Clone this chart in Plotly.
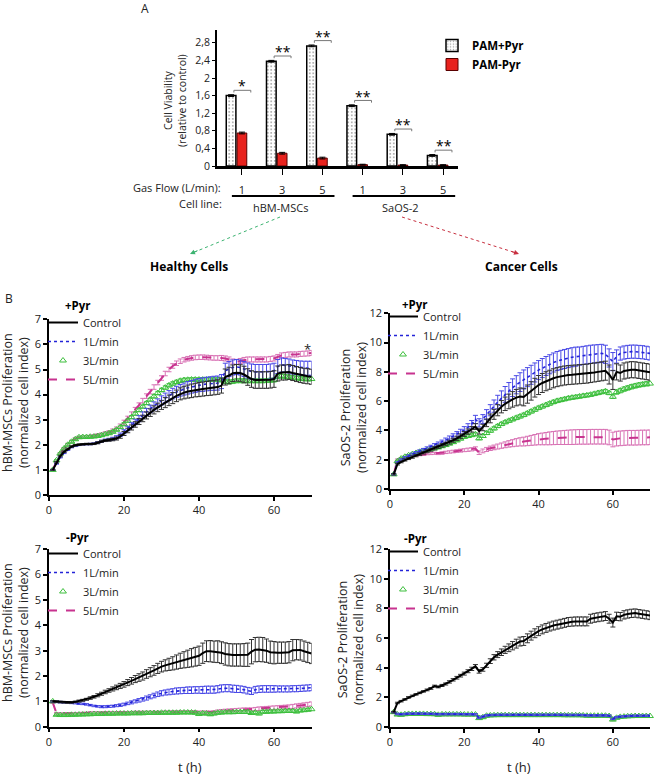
import plotly.graph_objects as go

W, H = 657, 775
FONT = "Open Sans"

# ---------------- Panel A data ----------------
groups = [0, 1, 2, 3, 4, 5]
gas_flow = ["1", "3", "5", "1", "3", "5"]
cell_lines = ["hBM-MSCs", "SaOS-2"]
via_plus = [1.60, 2.38, 2.73, 1.37, 0.72, 0.24]
via_minus = [0.75, 0.29, 0.18, 0.03, 0.02, 0.02]
via_plus_err = [0.02, 0.02, 0.02, 0.02, 0.02, 0.02]
via_minus_err = [0.02, 0.02, 0.02, 0.01, 0.01, 0.01]
via_sig = ["*", "**", "**", "**", "**", "**"]
bar_yticks = [0, 0.4, 0.8, 1.2, 1.6, 2.0, 2.4, 2.8]
bar_yticktext = ["0", "0,4", "0,8", "1,2", "1,6", "2", "2,4", "2,8"]

# ---------------- Panel B data (t = 1..70 h) ----------------
hours = list(range(1, 71))
series_names = ["Control", "1L/min", "3L/min", "5L/min"]

ul_ctrl = [1.00, 1.30, 1.55, 1.72, 1.84, 1.93, 1.98, 2.01, 2.02, 2.03,
           2.03, 2.04, 2.08, 2.14, 2.17, 2.19, 2.21, 2.25, 2.33, 2.45,
           2.57, 2.69, 2.81, 2.93, 3.05, 3.17, 3.28, 3.39, 3.49, 3.59,
           3.68, 3.77, 3.86, 3.95, 4.03, 4.08, 4.12, 4.15, 4.18, 4.20,
           4.22, 4.24, 4.26, 4.28, 4.30, 4.36, 4.70, 4.76, 4.85, 4.87,
           4.86, 4.80, 4.70, 4.62, 4.58, 4.58, 4.58, 4.58, 4.59, 4.62,
           4.84, 4.88, 4.88, 4.90, 4.86, 4.82, 4.78, 4.75, 4.73, 4.71]
ul_ctrl_err = [0.02, 0.03, 0.03, 0.03, 0.03, 0.03, 0.03, 0.03, 0.03, 0.03,
               0.03, 0.03, 0.04, 0.04, 0.04, 0.05, 0.05, 0.06, 0.07, 0.08,
               0.09, 0.10, 0.11, 0.12, 0.13, 0.14, 0.15, 0.16, 0.17, 0.18,
               0.20, 0.21, 0.22, 0.23, 0.24, 0.25, 0.26, 0.27, 0.27, 0.28,
               0.28, 0.28, 0.29, 0.29, 0.29, 0.30, 0.32, 0.33, 0.33, 0.33,
               0.33, 0.33, 0.33, 0.33, 0.33, 0.33, 0.33, 0.33, 0.33, 0.33,
               0.30, 0.30, 0.30, 0.30, 0.30, 0.30, 0.30, 0.30, 0.30, 0.30]
ul_1l = [1.00, 1.25, 1.50, 1.67, 1.80, 1.90, 1.95, 1.99, 2.01, 2.02,
         2.03, 2.05, 2.09, 2.14, 2.18, 2.21, 2.24, 2.30, 2.40, 2.52,
         2.65, 2.78, 2.91, 3.04, 3.18, 3.31, 3.43, 3.55, 3.66, 3.77,
         3.87, 3.96, 4.04, 4.11, 4.17, 4.22, 4.27, 4.31, 4.35, 4.38,
         4.40, 4.42, 4.44, 4.45, 4.46, 4.52, 4.95, 5.02, 5.08, 5.10,
         5.08, 5.02, 4.96, 4.92, 4.90, 4.90, 4.90, 4.90, 4.92, 4.95,
         5.12, 5.18, 5.16, 5.14, 5.10, 5.08, 5.06, 5.05, 5.05, 5.05]
ul_1l_err = [0.02, 0.02, 0.02, 0.02, 0.02, 0.02, 0.02, 0.02, 0.02, 0.02,
             0.03, 0.03, 0.04, 0.04, 0.05, 0.05, 0.06, 0.06, 0.07, 0.08,
             0.09, 0.10, 0.11, 0.12, 0.13, 0.14, 0.15, 0.16, 0.17, 0.18,
             0.19, 0.20, 0.21, 0.22, 0.23, 0.24, 0.25, 0.25, 0.26, 0.26,
             0.27, 0.27, 0.27, 0.28, 0.28, 0.28, 0.30, 0.30, 0.30, 0.30,
             0.30, 0.30, 0.30, 0.30, 0.30, 0.30, 0.30, 0.30, 0.30, 0.30,
             0.28, 0.28, 0.28, 0.28, 0.28, 0.28, 0.28, 0.28, 0.28, 0.28]
ul_3l = [1.00, 1.38, 1.65, 1.85, 2.00, 2.12, 2.22, 2.30, 2.31, 2.31,
         2.32, 2.33, 2.35, 2.38, 2.42, 2.46, 2.52, 2.60, 2.70, 2.82,
         2.96, 3.10, 3.24, 3.38, 3.52, 3.66, 3.80, 3.93, 4.06, 4.18,
         4.28, 4.37, 4.44, 4.50, 4.55, 4.58, 4.59, 4.60, 4.60, 4.60,
         4.60, 4.60, 4.60, 4.60, 4.60, 4.58, 4.52, 4.50, 4.52, 4.55,
         4.55, 4.55, 4.55, 4.55, 4.55, 4.55, 4.55, 4.56, 4.57, 4.58,
         4.72, 4.74, 4.72, 4.70, 4.68, 4.66, 4.64, 4.63, 4.62, 4.62]
ul_3l_err = [0.02, 0.03, 0.03, 0.03, 0.04, 0.04, 0.04, 0.04, 0.04, 0.04,
             0.04, 0.04, 0.04, 0.05, 0.05, 0.05, 0.05, 0.05, 0.05, 0.06,
             0.06, 0.06, 0.06, 0.06, 0.06, 0.06, 0.06, 0.07, 0.07, 0.07,
             0.07, 0.07, 0.07, 0.07, 0.07, 0.07, 0.07, 0.07, 0.07, 0.07,
             0.07, 0.07, 0.07, 0.07, 0.07, 0.08, 0.08, 0.08, 0.08, 0.08,
             0.08, 0.08, 0.08, 0.08, 0.08, 0.08, 0.08, 0.08, 0.08, 0.08,
             0.08, 0.08, 0.08, 0.08, 0.08, 0.08, 0.08, 0.08, 0.08, 0.08]
ul_5l = [1.00, 1.36, 1.66, 1.86, 2.02, 2.14, 2.24, 2.30, 2.31, 2.32,
         2.34, 2.36, 2.39, 2.42, 2.46, 2.50, 2.56, 2.64, 2.75, 2.90,
         3.06, 3.23, 3.40, 3.58, 3.76, 3.94, 4.12, 4.30, 4.48, 4.66,
         4.84, 5.00, 5.14, 5.25, 5.33, 5.39, 5.43, 5.46, 5.48, 5.49,
         5.49, 5.48, 5.47, 5.46, 5.46, 5.46, 5.44, 5.40, 5.32, 5.30,
         5.34, 5.38, 5.40, 5.40, 5.40, 5.40, 5.40, 5.40, 5.42, 5.44,
         5.50, 5.56, 5.58, 5.60, 5.60, 5.60, 5.62, 5.63, 5.64, 5.66]
ul_5l_err = [0.02, 0.03, 0.03, 0.03, 0.04, 0.04, 0.04, 0.04, 0.04, 0.04,
             0.04, 0.05, 0.05, 0.05, 0.06, 0.06, 0.07, 0.07, 0.08, 0.08,
             0.08, 0.08, 0.09, 0.09, 0.09, 0.09, 0.09, 0.09, 0.09, 0.09,
             0.09, 0.09, 0.09, 0.09, 0.09, 0.09, 0.09, 0.09, 0.09, 0.09,
             0.09, 0.09, 0.09, 0.09, 0.09, 0.10, 0.10, 0.10, 0.10, 0.10,
             0.10, 0.10, 0.10, 0.10, 0.10, 0.10, 0.10, 0.10, 0.10, 0.10,
             0.10, 0.10, 0.10, 0.10, 0.10, 0.10, 0.10, 0.10, 0.10, 0.10]

ur_ctrl = [1.00, 1.70, 1.85, 1.98, 2.08, 2.18, 2.28, 2.38, 2.48, 2.58,
           2.68, 2.78, 2.88, 2.98, 3.08, 3.20, 3.33, 3.46, 3.60, 3.76,
           3.92, 4.08, 4.26, 3.95, 4.20, 4.52, 4.82, 5.10, 5.38, 5.62,
           5.82, 5.98, 6.12, 6.24, 6.32, 6.28, 6.48, 6.70, 6.92, 7.10,
           7.24, 7.36, 7.46, 7.56, 7.64, 7.70, 7.75, 7.78, 7.80, 7.82,
           7.84, 7.86, 7.88, 7.92, 7.96, 8.00, 8.04, 8.08, 7.82, 7.45,
           8.00, 7.92, 8.06, 8.12, 8.15, 8.14, 8.10, 8.06, 8.02, 7.98]
ur_ctrl_err = [0.05, 0.06, 0.06, 0.07, 0.07, 0.08, 0.08, 0.09, 0.09, 0.10,
               0.10, 0.11, 0.11, 0.12, 0.12, 0.13, 0.14, 0.15, 0.16, 0.17,
               0.18, 0.19, 0.20, 0.20, 0.22, 0.26, 0.30, 0.34, 0.38, 0.42,
               0.46, 0.50, 0.53, 0.56, 0.58, 0.60, 0.62, 0.63, 0.64, 0.65,
               0.65, 0.65, 0.65, 0.65, 0.65, 0.65, 0.65, 0.65, 0.65, 0.65,
               0.65, 0.65, 0.65, 0.65, 0.65, 0.65, 0.65, 0.65, 0.65, 0.65,
               0.55, 0.55, 0.55, 0.55, 0.55, 0.55, 0.55, 0.55, 0.55, 0.55]
ur_1l = [1.00, 1.80, 2.00, 2.14, 2.26, 2.37, 2.48, 2.58, 2.68, 2.78,
         2.88, 2.98, 3.08, 3.20, 3.33, 3.46, 3.60, 3.74, 3.88, 4.04,
         4.22, 4.42, 4.75, 4.52, 4.78, 5.08, 5.38, 5.66, 5.94, 6.20,
         6.46, 6.70, 6.92, 7.12, 7.30, 7.48, 7.64, 7.80, 7.96, 8.12,
         8.26, 8.40, 8.52, 8.64, 8.74, 8.82, 8.88, 8.94, 9.00, 9.04,
         9.08, 9.12, 9.16, 9.20, 9.22, 9.24, 9.26, 9.20, 8.95, 8.70,
         9.05, 9.25, 9.32, 9.36, 9.38, 9.38, 9.36, 9.34, 9.30, 9.26]
ur_1l_err = [0.05, 0.06, 0.06, 0.07, 0.07, 0.08, 0.08, 0.09, 0.09, 0.10,
             0.11, 0.12, 0.13, 0.14, 0.15, 0.16, 0.17, 0.18, 0.20, 0.22,
             0.24, 0.26, 0.28, 0.28, 0.30, 0.34, 0.38, 0.42, 0.46, 0.50,
             0.54, 0.57, 0.60, 0.62, 0.64, 0.65, 0.65, 0.65, 0.65, 0.65,
             0.65, 0.65, 0.65, 0.65, 0.65, 0.65, 0.65, 0.65, 0.65, 0.65,
             0.62, 0.62, 0.62, 0.62, 0.62, 0.62, 0.62, 0.62, 0.62, 0.62,
             0.45, 0.45, 0.45, 0.45, 0.45, 0.45, 0.45, 0.45, 0.45, 0.45]
ur_3l = [1.00, 1.90, 2.08, 2.20, 2.30, 2.38, 2.46, 2.54, 2.60, 2.66,
         2.72, 2.78, 2.84, 2.92, 3.00, 3.10, 3.20, 3.32, 3.44, 3.56,
         3.62, 3.68, 3.74, 3.46, 3.62, 3.82, 3.98, 4.14, 4.30, 4.44,
         4.56, 4.66, 4.76, 4.86, 4.96, 5.06, 5.18, 5.30, 5.42, 5.54,
         5.64, 5.74, 5.84, 5.94, 6.02, 6.08, 6.14, 6.20, 6.24, 6.28,
         6.32, 6.36, 6.40, 6.44, 6.50, 6.56, 6.62, 6.68, 6.56, 6.30,
         6.62, 6.72, 6.82, 6.90, 6.98, 7.04, 7.10, 7.14, 7.18, 7.20]
ur_3l_err = [0.04, 0.05, 0.05, 0.05, 0.06, 0.06, 0.06, 0.06, 0.07, 0.07,
             0.07, 0.07, 0.08, 0.08, 0.08, 0.08, 0.09, 0.09, 0.09, 0.10,
             0.10, 0.10, 0.10, 0.10, 0.10, 0.10, 0.10, 0.11, 0.11, 0.11,
             0.11, 0.11, 0.11, 0.12, 0.12, 0.12, 0.12, 0.12, 0.12, 0.12,
             0.12, 0.12, 0.12, 0.12, 0.12, 0.12, 0.12, 0.12, 0.12, 0.12,
             0.12, 0.12, 0.12, 0.12, 0.12, 0.12, 0.12, 0.12, 0.12, 0.12,
             0.15, 0.15, 0.15, 0.15, 0.15, 0.15, 0.15, 0.15, 0.15, 0.15]
ur_5l = [1.00, 2.00, 2.10, 2.18, 2.24, 2.28, 2.30, 2.33, 2.36, 2.40,
         2.42, 2.44, 2.42, 2.45, 2.50, 2.53, 2.56, 2.59, 2.62, 2.65,
         2.68, 2.71, 2.76, 2.48, 2.60, 2.70, 2.78, 2.84, 2.90, 2.96,
         3.02, 3.08, 3.13, 3.18, 3.22, 3.24, 3.28, 3.32, 3.36, 3.40,
         3.42, 3.44, 3.46, 3.48, 3.50, 3.51, 3.52, 3.53, 3.54, 3.55,
         3.56, 3.56, 3.56, 3.57, 3.57, 3.57, 3.57, 3.57, 3.52, 3.38,
         3.44, 3.46, 3.48, 3.50, 3.50, 3.50, 3.51, 3.52, 3.52, 3.53]
ur_5l_err = [0.04, 0.05, 0.05, 0.05, 0.05, 0.05, 0.06, 0.06, 0.06, 0.06,
             0.07, 0.07, 0.07, 0.08, 0.08, 0.08, 0.09, 0.09, 0.10, 0.10,
             0.11, 0.11, 0.12, 0.12, 0.13, 0.14, 0.15, 0.16, 0.17, 0.18,
             0.20, 0.22, 0.24, 0.26, 0.28, 0.30, 0.32, 0.34, 0.36, 0.38,
             0.40, 0.42, 0.44, 0.45, 0.46, 0.47, 0.48, 0.49, 0.50, 0.50,
             0.50, 0.50, 0.50, 0.50, 0.50, 0.50, 0.50, 0.50, 0.50, 0.50,
             0.50, 0.50, 0.50, 0.50, 0.50, 0.50, 0.50, 0.50, 0.50, 0.50]

ll_ctrl = [1.00, 0.99, 0.97, 0.96, 0.95, 0.96, 0.98, 1.01, 1.04, 1.08,
           1.13, 1.18, 1.24, 1.30, 1.37, 1.43, 1.49, 1.55, 1.61, 1.67,
           1.74, 1.81, 1.88, 1.94, 2.00, 2.08, 2.15, 2.22, 2.30, 2.37,
           2.42, 2.46, 2.50, 2.55, 2.60, 2.64, 2.68, 2.72, 2.76, 2.80,
           2.90, 2.98, 2.98, 2.96, 2.96, 2.92, 2.87, 2.84, 2.83, 2.83,
           2.83, 2.83, 2.84, 2.96, 3.04, 3.05, 3.04, 3.00, 2.94, 2.92,
           2.92, 2.92, 2.92, 2.94, 3.02, 3.04, 3.03, 2.98, 2.93, 2.89]
ll_ctrl_err = [0.03, 0.03, 0.03, 0.03, 0.03, 0.03, 0.03, 0.04, 0.04, 0.04,
               0.05, 0.05, 0.06, 0.06, 0.07, 0.07, 0.08, 0.09, 0.10, 0.11,
               0.12, 0.13, 0.14, 0.15, 0.16, 0.17, 0.18, 0.19, 0.20, 0.21,
               0.22, 0.24, 0.26, 0.28, 0.30, 0.32, 0.34, 0.36, 0.37, 0.38,
               0.40, 0.41, 0.42, 0.42, 0.43, 0.43, 0.44, 0.44, 0.44, 0.44,
               0.44, 0.45, 0.46, 0.48, 0.48, 0.48, 0.48, 0.46, 0.44, 0.44,
               0.42, 0.42, 0.42, 0.42, 0.42, 0.40, 0.40, 0.40, 0.40, 0.40]
ll_1l = [1.00, 0.98, 0.97, 0.96, 0.95, 0.94, 0.93, 0.91, 0.90, 0.88,
         0.85, 0.82, 0.80, 0.79, 0.79, 0.80, 0.81, 0.83, 0.85, 0.88,
         0.92, 0.96, 1.00, 1.04, 1.08, 1.13, 1.18, 1.23, 1.28, 1.32,
         1.35, 1.37, 1.39, 1.41, 1.42, 1.43, 1.44, 1.44, 1.45, 1.45,
         1.45, 1.46, 1.46, 1.46, 1.48, 1.51, 1.52, 1.52, 1.50, 1.49,
         1.48, 1.46, 1.42, 1.40, 1.46, 1.48, 1.49, 1.49, 1.49, 1.49,
         1.49, 1.49, 1.49, 1.49, 1.50, 1.50, 1.51, 1.52, 1.53, 1.54]
ll_1l_err = [0.03, 0.03, 0.03, 0.03, 0.03, 0.03, 0.03, 0.03, 0.03, 0.03,
             0.03, 0.03, 0.03, 0.04, 0.04, 0.04, 0.04, 0.04, 0.05, 0.05,
             0.05, 0.06, 0.06, 0.07, 0.07, 0.08, 0.08, 0.09, 0.09, 0.10,
             0.10, 0.11, 0.11, 0.12, 0.12, 0.12, 0.13, 0.13, 0.13, 0.13,
             0.14, 0.14, 0.14, 0.14, 0.14, 0.14, 0.14, 0.14, 0.14, 0.14,
             0.13, 0.13, 0.13, 0.13, 0.13, 0.13, 0.13, 0.13, 0.13, 0.13,
             0.12, 0.12, 0.12, 0.12, 0.12, 0.12, 0.12, 0.12, 0.12, 0.12]
ll_3l = [1.00, 0.47, 0.46, 0.46, 0.46, 0.47, 0.47, 0.48, 0.48, 0.49,
         0.49, 0.50, 0.50, 0.50, 0.51, 0.51, 0.51, 0.52, 0.52, 0.52,
         0.52, 0.53, 0.53, 0.53, 0.53, 0.54, 0.54, 0.54, 0.54, 0.55,
         0.55, 0.55, 0.55, 0.55, 0.56, 0.56, 0.56, 0.56, 0.55, 0.50,
         0.53, 0.52, 0.49, 0.52, 0.55, 0.56, 0.57, 0.57, 0.57, 0.58,
         0.58, 0.58, 0.58, 0.54, 0.56, 0.52, 0.59, 0.59, 0.60, 0.60,
         0.61, 0.61, 0.62, 0.62, 0.62, 0.60, 0.64, 0.65, 0.67, 0.69]
ll_3l_err = [0.03, 0.03, 0.03, 0.03, 0.03, 0.03, 0.03, 0.03, 0.03, 0.03,
             0.03, 0.03, 0.03, 0.03, 0.03, 0.03, 0.03, 0.03, 0.03, 0.03,
             0.04, 0.04, 0.04, 0.04, 0.04, 0.04, 0.04, 0.04, 0.04, 0.04,
             0.04, 0.04, 0.04, 0.04, 0.04, 0.04, 0.04, 0.04, 0.04, 0.04,
             0.05, 0.05, 0.05, 0.05, 0.05, 0.05, 0.05, 0.05, 0.05, 0.05,
             0.05, 0.05, 0.05, 0.05, 0.05, 0.05, 0.05, 0.05, 0.05, 0.05,
             0.05, 0.05, 0.05, 0.05, 0.05, 0.05, 0.05, 0.05, 0.05, 0.05]
ll_5l = [0.95, 0.53, 0.52, 0.52, 0.52, 0.52, 0.53, 0.53, 0.54, 0.54,
         0.55, 0.55, 0.55, 0.55, 0.56, 0.56, 0.56, 0.56, 0.56, 0.56,
         0.56, 0.56, 0.57, 0.57, 0.57, 0.57, 0.57, 0.57, 0.57, 0.57,
         0.57, 0.57, 0.58, 0.58, 0.58, 0.58, 0.58, 0.58, 0.58, 0.57,
         0.57, 0.57, 0.57, 0.58, 0.60, 0.62, 0.63, 0.64, 0.65, 0.66,
         0.67, 0.68, 0.68, 0.68, 0.70, 0.71, 0.72, 0.73, 0.74, 0.75,
         0.76, 0.77, 0.78, 0.79, 0.80, 0.82, 0.84, 0.86, 0.88, 0.90]
ll_5l_err = [0.03, 0.03, 0.03, 0.03, 0.03, 0.03, 0.03, 0.03, 0.03, 0.03,
             0.04, 0.04, 0.04, 0.04, 0.04, 0.04, 0.04, 0.04, 0.04, 0.04,
             0.04, 0.04, 0.04, 0.04, 0.04, 0.04, 0.04, 0.04, 0.04, 0.04,
             0.05, 0.05, 0.05, 0.05, 0.05, 0.05, 0.05, 0.05, 0.05, 0.05,
             0.05, 0.05, 0.05, 0.05, 0.06, 0.06, 0.06, 0.06, 0.06, 0.06,
             0.06, 0.06, 0.06, 0.06, 0.06, 0.07, 0.07, 0.07, 0.07, 0.07,
             0.07, 0.07, 0.07, 0.07, 0.08, 0.08, 0.08, 0.08, 0.08, 0.08]

lr_ctrl = [1.00, 1.62, 1.74, 1.86, 2.00, 2.10, 2.20, 2.30, 2.40, 2.50,
           2.60, 2.76, 2.70, 2.80, 2.90, 3.04, 3.18, 3.32, 3.46, 3.60,
           3.76, 3.92, 4.10, 3.75, 3.88, 4.16, 4.44, 4.70, 4.88, 5.04,
           5.20, 5.34, 5.48, 5.62, 5.76, 5.80, 5.98, 6.16, 6.32, 6.46,
           6.58, 6.68, 6.77, 6.84, 6.90, 6.96, 7.02, 7.08, 7.10, 7.12,
           7.12, 7.12, 7.12, 7.30, 7.36, 7.40, 7.44, 7.48, 7.30, 7.04,
           7.46, 7.44, 7.56, 7.62, 7.66, 7.68, 7.64, 7.60, 7.56, 7.52]
lr_ctrl_err = [0.05, 0.05, 0.05, 0.05, 0.05, 0.05, 0.05, 0.05, 0.05, 0.06,
               0.06, 0.06, 0.06, 0.07, 0.07, 0.08, 0.08, 0.09, 0.09, 0.10,
               0.10, 0.11, 0.11, 0.12, 0.12, 0.14, 0.16, 0.18, 0.20, 0.22,
               0.24, 0.26, 0.28, 0.30, 0.30, 0.30, 0.30, 0.30, 0.30, 0.30,
               0.30, 0.30, 0.30, 0.30, 0.30, 0.30, 0.30, 0.30, 0.30, 0.30,
               0.30, 0.30, 0.30, 0.30, 0.30, 0.30, 0.30, 0.30, 0.30, 0.30,
               0.28, 0.28, 0.28, 0.28, 0.28, 0.28, 0.28, 0.28, 0.28, 0.28]
lr_1l = [1.00, 0.88, 0.86, 0.88, 0.90, 0.90, 0.90, 0.90, 0.90, 0.89,
         0.89, 0.88, 0.86, 0.87, 0.87, 0.87, 0.87, 0.87, 0.87, 0.86,
         0.86, 0.86, 0.85, 0.62, 0.70, 0.78, 0.80, 0.81, 0.82, 0.82,
         0.82, 0.82, 0.82, 0.82, 0.82, 0.82, 0.82, 0.82, 0.82, 0.82,
         0.82, 0.82, 0.82, 0.82, 0.82, 0.82, 0.82, 0.81, 0.81, 0.81,
         0.81, 0.80, 0.78, 0.78, 0.78, 0.78, 0.78, 0.78, 0.76, 0.55,
         0.66, 0.70, 0.72, 0.74, 0.75, 0.76, 0.76, 0.76, 0.76, 0.76]
lr_1l_err = [0.04, 0.05, 0.05, 0.05, 0.05, 0.05, 0.05, 0.05, 0.05, 0.05,
             0.05, 0.05, 0.05, 0.05, 0.05, 0.05, 0.05, 0.05, 0.05, 0.05,
             0.05, 0.05, 0.05, 0.05, 0.05, 0.05, 0.05, 0.05, 0.05, 0.05,
             0.05, 0.05, 0.05, 0.05, 0.05, 0.05, 0.05, 0.05, 0.05, 0.05,
             0.05, 0.05, 0.05, 0.05, 0.05, 0.05, 0.05, 0.05, 0.05, 0.05,
             0.05, 0.05, 0.05, 0.05, 0.05, 0.05, 0.05, 0.05, 0.05, 0.05,
             0.05, 0.05, 0.05, 0.05, 0.05, 0.05, 0.05, 0.05, 0.05, 0.05]
lr_3l = [1.00, 0.84, 0.82, 0.86, 0.88, 0.88, 0.88, 0.88, 0.88, 0.87,
         0.87, 0.86, 0.82, 0.85, 0.85, 0.85, 0.85, 0.85, 0.85, 0.84,
         0.84, 0.84, 0.84, 0.60, 0.66, 0.76, 0.78, 0.79, 0.80, 0.80,
         0.80, 0.80, 0.80, 0.80, 0.80, 0.80, 0.80, 0.80, 0.80, 0.80,
         0.80, 0.80, 0.80, 0.80, 0.80, 0.80, 0.79, 0.79, 0.79, 0.79,
         0.79, 0.78, 0.76, 0.76, 0.76, 0.76, 0.76, 0.76, 0.74, 0.50,
         0.62, 0.68, 0.70, 0.72, 0.73, 0.74, 0.74, 0.74, 0.74, 0.74]
lr_3l_err = [0.05, 0.07, 0.07, 0.07, 0.07, 0.07, 0.07, 0.07, 0.07, 0.07,
             0.07, 0.07, 0.07, 0.07, 0.07, 0.07, 0.07, 0.07, 0.07, 0.07,
             0.07, 0.07, 0.07, 0.07, 0.07, 0.07, 0.07, 0.07, 0.07, 0.07,
             0.07, 0.07, 0.07, 0.07, 0.07, 0.07, 0.07, 0.07, 0.07, 0.07,
             0.07, 0.07, 0.07, 0.07, 0.07, 0.07, 0.07, 0.07, 0.07, 0.07,
             0.07, 0.07, 0.07, 0.07, 0.07, 0.07, 0.07, 0.07, 0.07, 0.07,
             0.07, 0.07, 0.07, 0.07, 0.07, 0.07, 0.07, 0.07, 0.07, 0.07]
lr_5l = [1.00, 0.82, 0.80, 0.82, 0.84, 0.84, 0.84, 0.84, 0.84, 0.83,
         0.83, 0.82, 0.80, 0.81, 0.81, 0.81, 0.81, 0.81, 0.81, 0.80,
         0.80, 0.80, 0.80, 0.58, 0.64, 0.72, 0.75, 0.76, 0.77, 0.77,
         0.77, 0.77, 0.77, 0.77, 0.77, 0.77, 0.77, 0.77, 0.77, 0.77,
         0.77, 0.77, 0.77, 0.77, 0.77, 0.77, 0.76, 0.76, 0.76, 0.76,
         0.76, 0.75, 0.74, 0.74, 0.74, 0.74, 0.74, 0.74, 0.72, 0.47,
         0.60, 0.66, 0.68, 0.70, 0.71, 0.72, 0.72, 0.72, 0.72, 0.72]
lr_5l_err = [0.04, 0.04, 0.04, 0.04, 0.04, 0.04, 0.04, 0.04, 0.04, 0.04,
             0.04, 0.04, 0.04, 0.04, 0.04, 0.04, 0.04, 0.04, 0.04, 0.04,
             0.04, 0.04, 0.04, 0.04, 0.04, 0.04, 0.04, 0.04, 0.04, 0.04,
             0.04, 0.04, 0.04, 0.04, 0.04, 0.04, 0.04, 0.04, 0.04, 0.04,
             0.04, 0.04, 0.04, 0.04, 0.04, 0.04, 0.04, 0.04, 0.04, 0.04,
             0.04, 0.04, 0.04, 0.04, 0.04, 0.04, 0.04, 0.04, 0.04, 0.04,
             0.04, 0.04, 0.04, 0.04, 0.04, 0.04, 0.04, 0.04, 0.04, 0.04]

# significance marks for panel B: (hour, value, text)
sig_ul = [(69, 5.8, "*")]
sig_ur = [(70.5, 9.9, "*"), (71.2, 7.5, "*"), (70.5, 4.2, "**")]
sig_ll = [(70.5, 1.78, "**"), (70.5, 0.82, "**")]
sig_lr = [(70.5, 0.95, "**")]


def pxx(x):
    return x / W


def pyy(y):
    return 1 - y / H


fig = go.Figure()

# ---------------- Panel A bars ----------------
fig.add_trace(go.Bar(
    x=groups, y=via_plus, width=0.24, offset=-0.39, name="PAM+Pyr",
    marker=dict(color="white", line=dict(color="black", width=1.5),
                pattern=dict(shape=".", fgcolor="#333", bgcolor="white", size=3.5, solidity=0.2)),
    error_y=dict(type="data", array=via_plus_err, color="black", thickness=1, width=3),
    xaxis="x", yaxis="y", legend="legend"))
fig.add_trace(go.Bar(
    x=groups, y=via_minus, width=0.24, offset=-0.12, name="PAM-Pyr",
    marker=dict(color="#e8221d", line=dict(color="#5a0000", width=1)),
    error_y=dict(type="data", array=via_minus_err, color="black", thickness=1, width=3),
    xaxis="x", yaxis="y", legend="legend"))

shapes = []
annotations = []

# significance brackets on bars
for g, v, s in zip(groups, via_plus, via_sig):
    yb = v + 0.12
    shapes.append(dict(type="path", xref="x", yref="y",
                       path=f"M {g-0.2},{yb-0.05} L {g-0.2},{yb} L {g+0.22},{yb} L {g+0.22},{yb-0.05}",
                       line=dict(color="#777", width=1)))
    annotations.append(dict(x=g + 0.01, y=yb + 0.1, xref="x", yref="y", text=s, showarrow=False,
                            font=dict(family=FONT, size=14, color="black")))

# group underline + labels
for i, name in enumerate(cell_lines):
    x0 = groups[3 * i] - 0.25
    x1 = groups[3 * i + 2] + 0.3
    shapes.append(dict(type="line", xref="x", yref="paper", x0=x0, x1=x1, y0=pyy(196), y1=pyy(196),
                       line=dict(color="black", width=2)))
    annotations.append(dict(x=(groups[3 * i] + groups[3 * i + 2]) / 2 - 0.05, y=pyy(207), xref="x", yref="paper",
                            text=name, showarrow=False, font=dict(family=FONT, size=11, color="#222")))

annotations += [
    dict(x=pxx(223), y=pyy(187), xref="paper", yref="paper", text="Gas Flow (L/min):", xanchor="right",
         showarrow=False, font=dict(family=FONT, size=11, color="#222")),
    dict(x=pxx(224), y=pyy(204), xref="paper", yref="paper", text="Cell line:", xanchor="right",
         showarrow=False, font=dict(family=FONT, size=11, color="#222")),
    dict(x=pxx(145), y=pyy(8), xref="paper", yref="paper", text="A", showarrow=False,
         font=dict(family=FONT, size=12, color="#222")),
    dict(x=pxx(9), y=pyy(298), xref="paper", yref="paper", text="B", showarrow=False,
         font=dict(family=FONT, size=12, color="#222")),
    dict(x=pxx(175), y=pyy(101), xref="paper", yref="paper", text="Cell Viability<br>(relative to control)",
         textangle=-90, showarrow=False, font=dict(family=FONT, size=10.5, color="#222")),
    dict(x=pxx(189), y=pyy(266), xref="paper", yref="paper", text="<b>Healthy Cells</b>", showarrow=False,
         font=dict(family=FONT, size=12, color="black")),
    dict(x=pxx(521), y=pyy(266), xref="paper", yref="paper", text="<b>Cancer Cells</b>", showarrow=False,
         font=dict(family=FONT, size=12, color="black")),
    # arrowheads
    dict(x=pxx(190), y=pyy(254), xref="paper", yref="paper", ax=9, ay=-4, text="", showarrow=True,
         arrowhead=2, arrowsize=1, arrowwidth=1, arrowcolor="#3cb371"),
    dict(x=pxx(519), y=pyy(254), xref="paper", yref="paper", ax=-9, ay=-3, text="", showarrow=True,
         arrowhead=2, arrowsize=1, arrowwidth=1, arrowcolor="#c83040"),
]
shapes += [
    dict(type="line", xref="paper", yref="paper", x0=pxx(280), y0=pyy(217), x1=pxx(191), y1=pyy(253.5),
         line=dict(color="#3cb371", width=1, dash="dot")),
    dict(type="line", xref="paper", yref="paper", x0=pxx(402), y0=pyy(217), x1=pxx(518), y1=pyy(253.5),
         line=dict(color="#c83040", width=1, dash="dot")),
]

# ---------------- Panel B lines ----------------
C_BLACK, C_BLUE, C_GREEN, C_MAG = "#000000", "#2323d8", "#3dbf3d", "#c8338f"
E_BLACK, E_BLUE, E_GREEN, E_MAG = "#333333", "#4a4ae6", "#55c855", "#d872b4"

panels = [
    ("x2", "y2", "legend2", [ul_ctrl, ul_1l, ul_3l, ul_5l], [ul_ctrl_err, ul_1l_err, ul_3l_err, ul_5l_err]),
    ("x3", "y3", "legend3", [ur_ctrl, ur_1l, ur_3l, ur_5l], [ur_ctrl_err, ur_1l_err, ur_3l_err, ur_5l_err]),
    ("x4", "y4", "legend4", [ll_ctrl, ll_1l, ll_3l, ll_5l], [ll_ctrl_err, ll_1l_err, ll_3l_err, ll_5l_err]),
    ("x5", "y5", "legend5", [lr_ctrl, lr_1l, lr_3l, lr_5l], [lr_ctrl_err, lr_1l_err, lr_3l_err, lr_5l_err]),
]

for xa, ya, leg, vals, errs in panels:
    fig.add_trace(go.Scatter(x=hours, y=vals[3], name=series_names[3], mode="lines",
                             line=dict(color=C_MAG, width=2, dash="dash"),
                             error_y=dict(type="data", array=errs[3], color=E_MAG, thickness=1, width=2.5),
                             xaxis=xa, yaxis=ya, legend=leg, legendrank=4, cliponaxis=False))
    fig.add_trace(go.Scatter(x=hours, y=vals[2], name=series_names[2], mode="markers",
                             marker=dict(symbol="triangle-up-open", color=C_GREEN, size=6, line=dict(width=1)),
                             error_y=dict(type="data", array=errs[2], color=E_GREEN, thickness=1, width=2.5),
                             xaxis=xa, yaxis=ya, legend=leg, legendrank=3, cliponaxis=False))
    fig.add_trace(go.Scatter(x=hours, y=vals[1], name=series_names[1], mode="lines",
                             line=dict(color=C_BLUE, width=1.6, dash="dot"),
                             error_y=dict(type="data", array=errs[1], color=E_BLUE, thickness=1, width=2.5),
                             xaxis=xa, yaxis=ya, legend=leg, legendrank=2, cliponaxis=False))
    fig.add_trace(go.Scatter(x=hours, y=vals[0], name=series_names[0], mode="lines",
                             line=dict(color=C_BLACK, width=2),
                             error_y=dict(type="data", array=errs[0], color=E_BLACK, thickness=1, width=2.5),
                             xaxis=xa, yaxis=ya, legend=leg, legendrank=1, cliponaxis=False))

for xa, ya, sigs in [("x2", "y2", sig_ul), ("x3", "y3", sig_ur), ("x4", "y4", sig_ll), ("x5", "y5", sig_lr)]:
    for hx, vy, s in sigs:
        annotations.append(dict(x=hx, y=vy, xref=xa, yref=ya, text=s, showarrow=False,
                                font=dict(family=FONT, size=13, color="#222")))

for xc, yc, txt in [(78, 305, "<b>+Pyr</b>"), (415, 304, "<b>+Pyr</b>"),
                    (77, 537, "<b>-Pyr</b>"), (415, 538, "<b>-Pyr</b>")]:
    annotations.append(dict(x=pxx(xc), y=pyy(yc), xref="paper", yref="paper", text=txt, showarrow=False,
                            font=dict(family=FONT, size=11.5, color="black")))
for xc, yc, txt in [(15, 403, "hBM-MSCs Proliferation<br>(normalized cell index)"),
                    (353, 408, "SaOS-2 Proliferation<br>(normalized cell index)"),
                    (15, 633, "hBM-MSCs Proliferation<br>(normalized cell index)"),
                    (350, 640, "SaOS-2 Proliferation<br>(normalized cell index)")]:
    annotations.append(dict(x=pxx(xc), y=pyy(yc), xref="paper", yref="paper", text=txt, textangle=-90,
                            showarrow=False, font=dict(family=FONT, size=12.5, color="#222")))
for xc in [190, 519]:
    annotations.append(dict(x=pxx(xc), y=pyy(767), xref="paper", yref="paper", text="t (h)", showarrow=False,
                            font=dict(family=FONT, size=13, color="#222")))

for a in annotations:
    a.setdefault("xanchor", "center")
    a.setdefault("yanchor", "middle")

axis_common = dict(showline=True, linecolor="black", linewidth=1.5, ticks="outside", ticklen=4,
                   tickcolor="black", tickwidth=1.5, showgrid=False, zeroline=False, automargin=False,
                   tickfont=dict(family=FONT, size=11, color="#222"))

leg_common = dict(bgcolor="rgba(0,0,0,0)", font=dict(family=FONT, size=11, color="#222"),
                  xanchor="left", yanchor="top", tracegroupgap=0, itemclick=False)

fig.update_layout(
    width=W, height=H, margin=dict(l=0, r=0, t=0, b=0, pad=0, autoexpand=False),
    autosize=False,
    paper_bgcolor="white", plot_bgcolor="white",
    barmode="overlay", showlegend=True,
    xaxis=dict(domain=[pxx(217), pxx(458)], range=[-0.62, 5.37], anchor="y", automargin=False,
               tickvals=groups, ticktext=gas_flow, showline=True, linecolor="black", linewidth=2.5,
               ticks="outside", ticklen=6, tickwidth=1, tickcolor="black", showgrid=False, zeroline=False,
               ticklabelstandoff=6,
               tickfont=dict(family=FONT, size=11, color="#222")),
    yaxis=dict(domain=[pyy(166), pyy(29.6)], range=[0, 3.1], anchor="x", automargin=False,
               tickvals=bar_yticks, ticktext=bar_yticktext, showline=True, linecolor="black", linewidth=2,
               ticks="outside", ticklen=3, tickwidth=1, tickcolor="black", showgrid=False, zeroline=False,
               tickfont=dict(family=FONT, size=10.5, color="#222")),
    xaxis2=dict(domain=[pxx(49), pxx(311.5)], range=[0, 70], anchor="y2", tickvals=[0, 20, 40, 60], **axis_common),
    yaxis2=dict(domain=[pyy(495), pyy(319.3)], range=[0, 7], anchor="x2", dtick=1, **axis_common),
    xaxis3=dict(domain=[pxx(390), pxx(650)], range=[0, 70], anchor="y3", tickvals=[0, 20, 40, 60], **axis_common),
    yaxis3=dict(domain=[pyy(489), pyy(313.3)], range=[0, 12], anchor="x3", dtick=2, **axis_common),
    xaxis4=dict(domain=[pxx(49), pxx(311.5)], range=[0, 70], anchor="y4", tickvals=[0, 20, 40, 60], **axis_common),
    yaxis4=dict(domain=[pyy(726.7), pyy(549.3)], range=[0, 7], anchor="x4", dtick=1, **axis_common),
    xaxis5=dict(domain=[pxx(390), pxx(650)], range=[0, 70], anchor="y5", tickvals=[0, 20, 40, 60], **axis_common),
    yaxis5=dict(domain=[pyy(727), pyy(549)], range=[0, 12], anchor="x5", dtick=2, **axis_common),
    legend=dict(x=pxx(432), y=pyy(31), bgcolor="rgba(0,0,0,0)", xanchor="left", yanchor="top",
                font=dict(family=FONT, size=11.5, color="black", weight="bold"), tracegroupgap=0),
    legend2=dict(x=pxx(43), y=pyy(308), **leg_common),
    legend3=dict(x=pxx(383), y=pyy(302), **leg_common),
    legend4=dict(x=pxx(43), y=pyy(539), **leg_common),
    legend5=dict(x=pxx(383), y=pyy(537), **leg_common),
    shapes=shapes, annotations=annotations,
)

fig.write_html("out.html", config={"displayModeBar": False},
               post_script="document.body.style.margin='0';")
